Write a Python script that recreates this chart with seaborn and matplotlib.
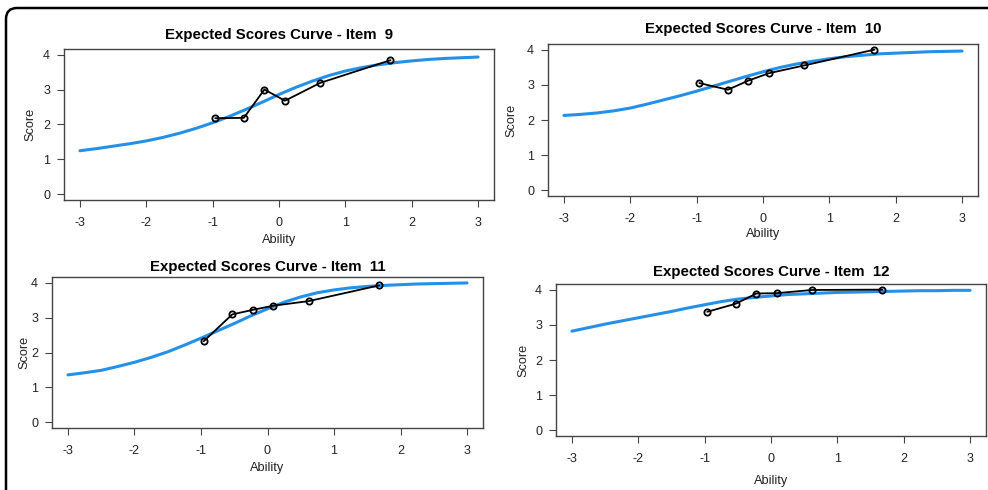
import matplotlib
matplotlib.use("Agg")
import matplotlib.pyplot as plt
import seaborn as sns
import pandas as pd
from matplotlib.path import Path
from matplotlib.patches import PathPatch

# ---- data ----
items = ["9", "10", "11", "12"]
curve_ability = [-3.0, -2.75, -2.5, -2.25, -2.0, -1.75, -1.5, -1.25, -1.0, -0.75, -0.5, -0.25,
                 0.0, 0.25, 0.5, 0.75, 1.0, 1.25, 1.5, 1.75, 2.0, 2.25, 2.5, 2.75, 3.0]
curve_item9 = [1.25, 1.31, 1.38, 1.45, 1.53, 1.63, 1.75, 1.89, 2.05, 2.23, 2.43, 2.64,
               2.86, 3.06, 3.24, 3.40, 3.53, 3.63, 3.71, 3.77, 3.82, 3.86, 3.89, 3.91, 3.93]
curve_item10 = [2.13, 2.16, 2.20, 2.26, 2.34, 2.45, 2.57, 2.69, 2.82, 2.96, 3.10, 3.24,
                3.37, 3.49, 3.59, 3.67, 3.74, 3.80, 3.84, 3.88, 3.90, 3.92, 3.94, 3.95, 3.96]
curve_item11 = [1.36, 1.42, 1.49, 1.60, 1.72, 1.86, 2.02, 2.21, 2.41, 2.62, 2.83, 3.05,
                3.25, 3.44, 3.59, 3.71, 3.79, 3.85, 3.89, 3.92, 3.94, 3.96, 3.97, 3.98, 3.99]
curve_item12 = [2.82, 2.92, 3.02, 3.11, 3.20, 3.29, 3.38, 3.48, 3.57, 3.66, 3.73, 3.78,
                3.82, 3.86, 3.88, 3.90, 3.92, 3.93, 3.94, 3.95, 3.96, 3.97, 3.97, 3.98, 3.98]

obs_ability = [-0.96, -0.53, -0.22, 0.09, 0.62, 1.68]
obs_item9 = [2.18, 2.19, 3.00, 2.68, 3.19, 3.84]
obs_item10 = [3.05, 2.86, 3.12, 3.33, 3.55, 4.00]
obs_item11 = [2.32, 3.09, 3.22, 3.34, 3.47, 3.92]
obs_item12 = [3.37, 3.60, 3.89, 3.90, 3.99, 4.00]

x_ticks = [-3, -2, -1, 0, 1, 2, 3]
y_ticks = [0, 1, 2, 3, 4]

curves = [curve_item9, curve_item10, curve_item11, curve_item12]
observed = [obs_item9, obs_item10, obs_item11, obs_item12]

# ---- layout (pixels) ----
W, H = 988, 490
boxes = [(64, 494, 49, 200), (548, 978, 44, 196), (52, 483, 277, 428), (556, 986, 284, 436)]
title_pads = [7.0, 7.9, 4.1, 6.0]
xlabel_pads = [3.5, 2.5, 3.5, 7.5]
ylabel_pads = [4.8, 7.0, 0.8, 4.0]

sns.set_style("white")
plt.rcParams["font.family"] = ["Liberation Sans", "DejaVu Sans"]

fig = plt.figure(figsize=(W / 100, H / 100), dpi=100)
fig.patch.set_facecolor("white")

blue = "#2590E8"
txt = "#222222"
spine_c = "#444444"

for i, item in enumerate(items):
    l, r, t, b = boxes[i]
    ax = fig.add_axes([l / W, 1 - b / H, (r - l) / W, (b - t) / H])
    cdf = pd.DataFrame({"Ability": curve_ability, "Score": curves[i]})
    odf = pd.DataFrame({"Ability": obs_ability, "Score": observed[i]})
    sns.lineplot(data=cdf, x="Ability", y="Score", ax=ax, color=blue, linewidth=2.2, sort=False)
    sns.lineplot(data=odf, x="Ability", y="Score", ax=ax, color="black", linewidth=1.3, sort=False,
                 marker="o", markersize=4.5, markerfacecolor="none", markeredgecolor="black",
                 markeredgewidth=1.3)
    ax.set_xlim(-3.24, 3.24)
    ax.set_ylim(-0.16, 4.16)
    ax.set_xticks(x_ticks)
    ax.set_xticklabels([str(v) for v in x_ticks])
    ax.set_yticks(y_ticks)
    ax.set_yticklabels([str(v) for v in y_ticks])
    ax.tick_params(axis="both", direction="out", length=5, width=0.8, color=spine_c,
                   labelsize=9, labelcolor=txt)
    ax.tick_params(axis="x", pad=7.0)
    ax.tick_params(axis="y", pad=5)
    ax.tick_params(bottom=True, left=True)
    for s in ax.spines.values():
        s.set_visible(True)
        s.set_color(spine_c)
        s.set_linewidth(1.0)
    ax.set_xlabel("Ability", fontsize=9.2, color=txt, labelpad=xlabel_pads[i])
    ax.set_ylabel("Score", fontsize=9.2, color=txt, labelpad=ylabel_pads[i])
    ax.set_title(f"Expected Scores Curve - Item  {item}", fontsize=10.8, fontweight="bold",
                 color="black", pad=title_pads[i])
    ax.grid(False)

# outer rounded frame (top and left edges)
def fx(x):
    return x / W

def fy(y):
    return 1 - y / H

verts = [(fx(988), fy(8)), (fx(17), fy(8)), (fx(6), fy(8)), (fx(6), fy(19)), (fx(6), fy(490))]
codes = [Path.MOVETO, Path.LINETO, Path.CURVE3, Path.CURVE3, Path.LINETO]
frame = PathPatch(Path(verts, codes), transform=fig.transFigure, facecolor="none",
                  edgecolor="black", linewidth=1.8)
fig.patches.append(frame)

fig.savefig("out.png", dpi=100)
